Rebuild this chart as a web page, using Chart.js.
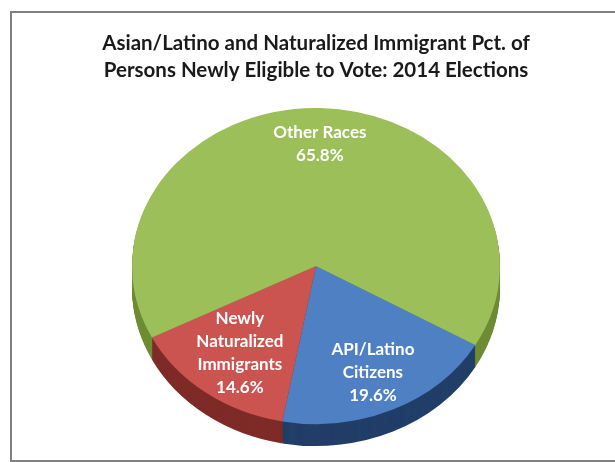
<!DOCTYPE html>
<html>
<head>
<meta charset="utf-8">
<script src="https://cdn.jsdelivr.net/npm/chart.js@4/dist/chart.umd.min.js"></script>
<style>
  html, body { margin: 0; padding: 0; background: #ffffff; overflow: hidden; }
  #frame { position: absolute; left: 10px; top: 11px; width: 620px; height: 447px; border: 2px solid #808080; background: #ffffff; }
  #wrap { position: absolute; left: 0; top: 0; width: 615px; height: 462px; }
</style>
</head>
<body>
<div id="frame"></div>
<div id="wrap"><canvas id="c" width="615" height="462"></canvas></div>
<script>
// ---- data ----
const categories = ["API/Latino Citizens", "Newly Naturalized Immigrants", "Other Races"];
const labelLines = [["API/Latino", "Citizens"], ["Newly", "Naturalized", "Immigrants"], ["Other Races"]];
const values = [19.6, 14.6, 65.8];
const titleLines = ["Asian/Latino and Naturalized Immigrant Pct. of", "Persons Newly Eligible to Vote: 2014 Elections"];

// ---- styles ----
const topColors = ["#4F80C4", "#CB5450", "#9CBF5A"];
const sideColors = ["#213E69", "#7E2B28", "#6E8C34"];
const SQUASH = 0.859;   // vertical / horizontal radius of the tilted pie
const DEPTH = 22;       // px thickness of the pie
const LABEL_FRAC = [0.74, 0.69, 0.77];

function sectorPath(ctx, x, y, r, a0, a1) {
  ctx.beginPath();
  ctx.moveTo(x, y);
  ctx.arc(x, y, r, a0, a1);
  ctx.closePath();
}

const tiltPlugin = {
  id: 'tilt',
  beforeDatasetsDraw(chart) {
    const ctx = chart.ctx;
    const arcs = chart.getDatasetMeta(0).data;
    const cx = arcs[0].x, cy = arcs[0].y;
    ctx.save();
    ctx.translate(cx, cy);
    ctx.scale(1, SQUASH);
    ctx.translate(-cx, -cy);
    // side walls
    for (let d = DEPTH; d >= 1; d--) {
      arcs.forEach((a, i) => {
        ctx.fillStyle = sideColors[i];
        sectorPath(ctx, a.x, a.y + d / SQUASH, a.outerRadius, a.startAngle, a.endAngle);
        ctx.fill();
      });
    }
  },
  afterDatasetsDraw(chart) {
    const ctx = chart.ctx;
    ctx.restore();
    const arcs = chart.getDatasetMeta(0).data;
    ctx.save();
    ctx.fillStyle = '#ffffff';
    ctx.font = 'bold 17px Lato, "Open Sans", sans-serif';
    ctx.textAlign = 'center';
    ctx.textBaseline = 'middle';
    const lh = 23;
    arcs.forEach((a, i) => {
      const mid = (a.startAngle + a.endAngle) / 2;
      const r = a.outerRadius * LABEL_FRAC[i];
      const px = a.x + Math.cos(mid) * r;
      const py = a.y + Math.sin(mid) * r * SQUASH;
      const lines = labelLines[i].concat([values[i].toFixed(1) + '%']);
      const y0 = py - (lines.length - 1) * lh / 2;
      lines.forEach((t, k) => ctx.fillText(t, px, y0 + k * lh));
    });
    ctx.restore();
  }
};

new Chart(document.getElementById('c'), {
  type: 'pie',
  data: {
    labels: categories,
    datasets: [{
      data: values,
      backgroundColor: topColors,
      borderWidth: 0,
      hoverOffset: 0
    }]
  },
  options: {
    responsive: false,
    animation: false,
    rotation: 120,
    radius: 184,
    layout: { padding: { left: 17, right: 0, top: 0, bottom: 13.5 } },
    plugins: {
      legend: { display: false },
      tooltip: { enabled: false },
      title: {
        display: true,
        text: titleLines,
        color: '#1a1a1a',
        font: { family: 'Lato, "Open Sans", sans-serif', size: 20.5, weight: 'bold', lineHeight: 1.317 },
        padding: { top: 29.5, bottom: 0 }
      }
    }
  },
  plugins: [tiltPlugin]
});
</script>
</body>
</html>
